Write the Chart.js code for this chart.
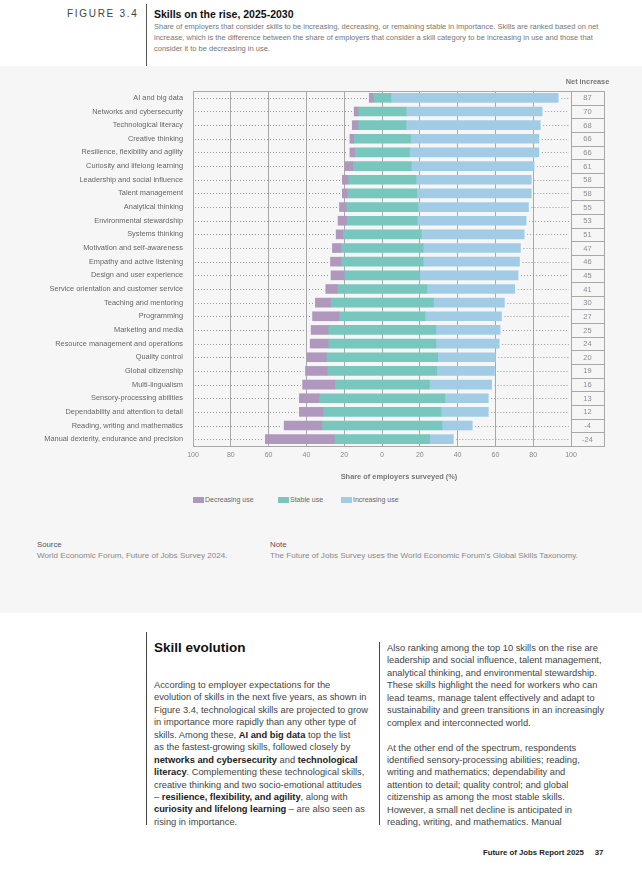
<!DOCTYPE html>
<html lang="en">
<head>
<meta charset="UTF-8" />
<title>Skills on the rise, 2025-2030</title>
<script src="https://cdn.jsdelivr.net/npm/chart.js@4.4.1/dist/chart.umd.min.js"></script>
<style>
  body {
    margin: 0;
    width: 642px;
    height: 884px;
    position: relative;
    overflow: hidden;
    background: #fff;
    font-family: "Liberation Sans", Arial, sans-serif;
  }
  .abs { position: absolute; white-space: nowrap; }
  #fig { left: 67px; top: 8px; font-size: 10px; letter-spacing: 1.7px; color: #444; }
  #vline { left: 146px; top: 4px; width: 1px; height: 62px; background: #555; }
  #title { left: 154px; top: 7.5px; font-size: 10.5px; font-weight: bold; color: #111; }
  #sub { left: 154px; top: 21px; font-size: 7.5px; line-height: 11px; color: #777; }
  #panel { left: 0; top: 66px; width: 642px; height: 547px; background: #f6f6f6; }
  #chart-box { left: 0; top: 66px; width: 642px; height: 420px; }
  #legend { left: 0; top: 496px; font-size: 7px; color: #666; }
  #legend span.box { display: inline-block; width: 11px; height: 6px; vertical-align: middle; margin-right: 1px; }
  .lg { position: absolute; top: 0; white-space: nowrap; }
  .src-h { font-size: 7.8px; color: #555; }
  .src-t { font-size: 8.1px; color: #888; }
  #col1, #col2 { font-size: 9.3px; line-height: 12.43px; color: #444; }
  #col1 b, #col2 b { color: #222; }
  #heading { left: 154px; top: 640px; font-size: 13.5px; font-weight: bold; color: #111; }
  #footer { left: 483px; top: 848px; font-size: 7.8px; font-weight: bold; color: #222; }
</style>
</head>
<body>
  <div id="fig" class="abs">FIGURE 3.4</div>
  <div id="vline" class="abs"></div>
  <div id="title" class="abs">Skills on the rise, 2025-2030</div>
  <div id="sub" class="abs">Share of employers that consider skills to be increasing, decreasing, or remaining stable in importance. Skills are ranked based on net<br>increase, which is the difference between the share of employers that consider a skill category to be increasing in use and those that<br>consider it to be decreasing in use.</div>

  <div id="panel" class="abs"></div>
  <div id="chart-box" class="abs"><canvas id="skills" width="642" height="420"></canvas></div>
  <div id="legend" class="abs"></div>

  <div class="abs src-h" style="left:37px; top:539.5px;">Source</div>
  <div class="abs src-t" style="left:37px; top:551px;">World Economic Forum, Future of Jobs Survey 2024.</div>
  <div class="abs src-h" style="left:270px; top:539.5px;">Note</div>
  <div class="abs src-t" style="left:270px; top:551px;">The Future of Jobs Survey uses the World Economic Forum's Global Skills Taxonomy.</div>

  <!-- text below the figure -->
  <div class="abs" style="left:146px; top:632px; width:1px; height:193px; background:#444;"></div>
  <div class="abs" style="left:379px; top:642px; width:1px; height:183px; background:#444;"></div>
  <div id="heading" class="abs">Skill evolution</div>
  <div id="col1" class="abs" style="left:154px; top:679px;">According to employer expectations for the<br>evolution of skills in the next five years, as shown in<br>Figure 3.4, technological skills are projected to grow<br>in importance more rapidly than any other type of<br>skills. Among these, <b>AI and big data</b> top the list<br>as the fastest-growing skills, followed closely by<br><b>networks and cybersecurity</b> and <b>technological</b><br><b>literacy</b>. Complementing these technological skills,<br>creative thinking and two socio-emotional attitudes<br>– <b>resilience, flexibility, and agility</b>, along with<br><b>curiosity and lifelong learning</b> – are also seen as<br>rising in importance.</div>
  <div id="col2" class="abs" style="left:387px; top:642px;">Also ranking among the top 10 skills on the rise are<br>leadership and social influence, talent management,<br>analytical thinking, and environmental stewardship.<br>These skills highlight the need for workers who can<br>lead teams, manage talent effectively and adapt to<br>sustainability and green transitions in an increasingly<br>complex and interconnected world.<br><br>At the other end of the spectrum, respondents<br>identified sensory-processing abilities; reading,<br>writing and mathematics; dependability and<br>attention to detail; quality control; and global<br>citizenship as among the most stable skills.<br>However, a small net decline is anticipated in<br>reading, writing, and mathematics. Manual</div>
  <div id="footer" class="abs">Future of Jobs Report 2025 &nbsp;&nbsp;&nbsp; 37</div>

<script>
  // share of employers (%)
  const skills = [
    'AI and big data',
    'Networks and cybersecurity',
    'Technological literacy',
    'Creative thinking',
    'Resilience, flexibility and agility',
    'Curiosity and lifelong learning',
    'Leadership and social influence',
    'Talent management',
    'Analytical thinking',
    'Environmental stewardship',
    'Systems thinking',
    'Motivation and self-awareness',
    'Empathy and active listening',
    'Design and user experience',
    'Service orientation and customer service',
    'Teaching and mentoring',
    'Programming',
    'Marketing and media',
    'Resource management and operations',
    'Quality control',
    'Global citizenship',
    'Multi-lingualism',
    'Sensory-processing abilities',
    'Dependability and attention to detail',
    'Reading, writing and mathematics',
    'Manual dexterity, endurance and precision'
  ];
  const decreasing = [2, 2, 3, 2, 2.5, 4, 3, 2.5, 3.5, 4.5, 3.5, 4.5, 5.5, 7, 6, 8, 14, 9, 9.5, 10, 11.5, 17, 10.5, 12.5, 20, 36.5];
  const stable = [9.5, 25.5, 25.5, 30, 29, 31, 36, 37, 38, 37.5, 41.5, 43.5, 43.5, 40, 47.5, 54.5, 45.5, 57, 57, 59, 58, 50, 66.5, 62.5, 63.5, 50.5];
  const increasing = [88.5, 72, 71, 68, 68.5, 65, 61, 60.5, 58.5, 57.5, 54.5, 51.5, 51, 52, 46.5, 37.5, 40.5, 34, 33.5, 30.5, 30.5, 33, 23, 25, 16, 12.5];
  const netIncrease = [87, 70, 68, 66, 66, 61, 58, 58, 55, 53, 51, 47, 46, 45, 41, 30, 27, 25, 24, 20, 19, 16, 13, 12, -4, -24];

  const colors = { dec: '#b097be', stable: '#77c7be', inc: '#a2cce6' };
  const lineGrey = '#a8a8a8';

  // stable share is centred on zero, the other two sit on either side of it
  const decBars = skills.map((s, i) => [-stable[i] / 2 - decreasing[i], -stable[i] / 2]);
  const stableBars = skills.map((s, i) => [-stable[i] / 2, stable[i] / 2]);
  const incBars = skills.map((s, i) => [stable[i] / 2, stable[i] / 2 + increasing[i]]);

  Chart.defaults.font.family = '"Liberation Sans", Arial, sans-serif';

  const netColW = 33;

  const extras = {
    id: 'extras',
    beforeDatasetsDraw(chart) {
      const { ctx, chartArea, scales: { x, y } } = chart;
      ctx.save();
      ctx.strokeStyle = '#9a9a9a';
      ctx.lineWidth = 1;
      ctx.setLineDash([1, 2]);
      skills.forEach((s, i) => {
        const py = Math.round(y.getPixelForValue(i)) + 0.5;
        const a = x.getPixelForValue(decBars[i][0]);
        const b = x.getPixelForValue(incBars[i][1]);
        ctx.beginPath();
        ctx.moveTo(chartArea.left + 2, py);
        ctx.lineTo(a - 2, py);
        ctx.moveTo(b + 3, py);
        ctx.lineTo(chartArea.right - 2, py);
        ctx.stroke();
      });
      ctx.restore();
    },
    afterDraw(chart) {
      const { ctx, chartArea, scales: { x, y } } = chart;
      const x0 = chartArea.right;
      const x1 = chartArea.right + netColW;
      ctx.save();
      ctx.strokeStyle = lineGrey;
      ctx.lineWidth = 1;
      ctx.beginPath();
      // frame of the net column and top border
      ctx.moveTo(chartArea.left, Math.round(chartArea.top) + 0.5);
      ctx.lineTo(x1 + 0.5, Math.round(chartArea.top) + 0.5);
      ctx.moveTo(Math.round(x1) + 0.5, chartArea.top);
      ctx.lineTo(Math.round(x1) + 0.5, chartArea.bottom + 1);
      ctx.moveTo(x0, Math.round(chartArea.bottom) + 0.5);
      ctx.lineTo(x1 + 0.5, Math.round(chartArea.bottom) + 0.5);
      for (let i = 0; i < skills.length - 1; i++) {
        const py = Math.round((y.getPixelForValue(i) + y.getPixelForValue(i + 1)) / 2) + 0.5;
        ctx.moveTo(x0, py);
        ctx.lineTo(x1, py);
      }
      ctx.stroke();

      ctx.textAlign = 'center';
      ctx.textBaseline = 'middle';
      ctx.fillStyle = '#8c8c96';
      ctx.font = '7.5px "Liberation Sans", Arial, sans-serif';
      netIncrease.forEach((v, i) => {
        ctx.fillText(String(v), (x0 + x1) / 2, y.getPixelForValue(i) + 0.5);
      });
      ctx.fillStyle = '#777';
      ctx.font = 'bold 7.3px "Liberation Sans", Arial, sans-serif';
      ctx.fillText('Net increase', (x0 + x1) / 2, chartArea.top - 9);

      // axis title, sits a little right of the centre in the original
      ctx.font = 'bold 7.4px "Liberation Sans", Arial, sans-serif';
      ctx.fillText('Share of employers surveyed (%)', x.getPixelForValue(9), chartArea.bottom + 31);
      ctx.restore();
    }
  };

  const datasets = [
    { label: 'Decreasing use', data: decBars, backgroundColor: colors.dec },
    { label: 'Stable use', data: stableBars, backgroundColor: colors.stable },
    { label: 'Increasing use', data: incBars, backgroundColor: colors.inc }
  ];
  datasets.forEach(d => {
    d.grouped = false;
    d.barThickness = 9;
    d.borderWidth = 0;
  });

  const ch = new Chart(document.getElementById('skills'), {
    type: 'bar',
    data: { labels: skills, datasets: datasets },
    options: {
      indexAxis: 'y',
      responsive: false,
      animation: false,
      layout: { padding: { left: 0, right: 642 - 571, top: 25, bottom: 0 } },
      plugins: {
        legend: { display: false },
        tooltip: { enabled: false }
      },
      scales: {
        x: {
          min: -100,
          max: 100,
          z: 1,
          ticks: {
            stepSize: 20,
            color: '#888',
            font: { size: 7 },
            padding: 5,
            callback: v => Math.abs(v)
          },
          grid: { color: lineGrey, drawTicks: false },
          border: { color: lineGrey },
          afterFit: s => { s.height = 40; }
        },
        y: {
          ticks: { color: '#666', font: { size: 7.4 }, padding: 10, autoSkip: false },
          grid: { display: false, drawTicks: false },
          border: { color: lineGrey },
          afterFit: s => { s.width = 193; }
        }
      }
    },
    plugins: [extras]
  });

  // legend built from the datasets
  const legend = document.getElementById('legend');
  const legendX = [193, 278, 341];
  datasets.forEach((d, i) => {
    const item = document.createElement('div');
    item.className = 'lg';
    item.style.left = legendX[i] + 'px';
    item.innerHTML = '<span class="box" style="background:' + d.backgroundColor + '"></span>' + d.label;
    legend.appendChild(item);
  });
</script>
</body>
</html>
